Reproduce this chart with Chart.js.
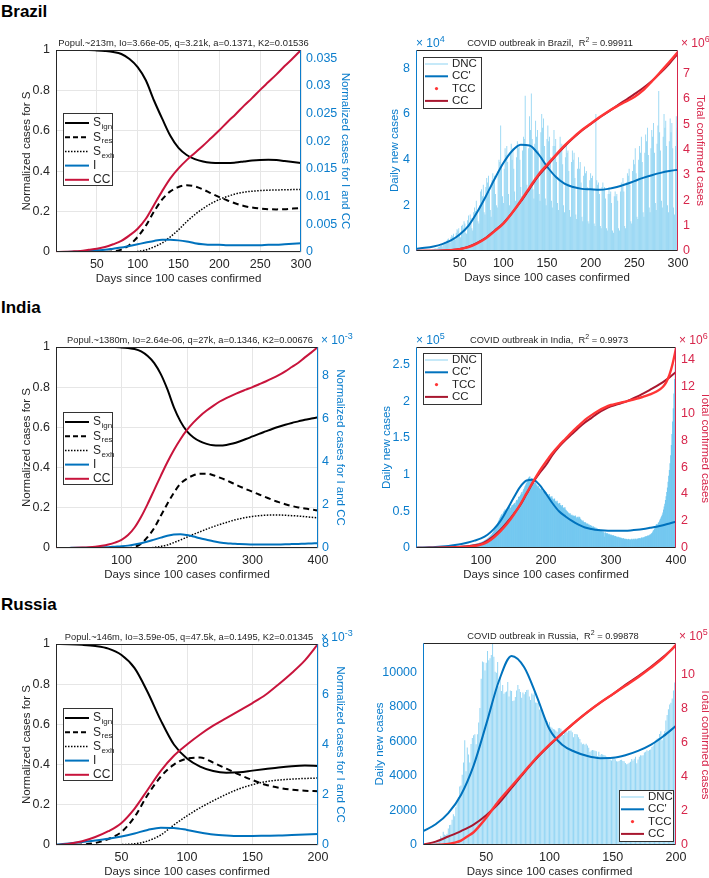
<!DOCTYPE html>
<html>
<head>
<meta charset="utf-8">
<title>COVID outbreak fits</title>
<script src="https://cdn.jsdelivr.net/npm/chart.js@4.4.0/dist/chart.umd.min.js"></script>
<style>
  body { margin: 0; width: 709px; height: 878px; position: relative; overflow: hidden; background: #fff;
         font-family: "Liberation Sans", Arial, Helvetica, sans-serif; }
  canvas { position: absolute; }
  .country { position: absolute; left: 1px; font-size: 17px; line-height: 17px; font-weight: bold; color: #000; }
</style>
</head>
<body>
<div class="country" style="top:3px">Brazil</div>
<div class="country" style="top:299px">India</div>
<div class="country" style="top:596px">Russia</div>
<canvas id="brLeft"></canvas>
<canvas id="brRight"></canvas>
<canvas id="inLeft"></canvas>
<canvas id="inRight"></canvas>
<canvas id="ruLeft"></canvas>
<canvas id="ruRight"></canvas>
<script>
// ---- tick positions ----
const sTicks = [0,0.2,0.4,0.6,0.8,1];
const brModelTicks = [0,0.005,0.01,0.015,0.02,0.025,0.03,0.035];
const milliTicks = [0,2,4,6,8];
const brDncTicks = [0,2,4,6,8];
const brTotTicks = [0,1,2,3,4,5,6,7];
const inDncTicks = [0,0.5,1,1.5,2,2.5];
const inTotTicks = [0,2,4,6,8,10,12,14];
const ruDncTicks = [0,2000,4000,6000,8000,10000];
const ruTotTicks = [0,2,4,6,8,10];

// ---- Brazil, model panel (S on left axis, I and CC on right axis) ----
const brDays = [0,10,20,30,40,50,60,70,80,90,100,110,120,130,140,150,160,170,180,190,200,210,220,230,240,250,260,270,280,290,300];
const brSign = [1,1,1,1,1,0.998,0.995,0.99,0.98,0.955,0.915,0.85,0.75,0.66,0.575,0.515,0.48,0.46,0.448,0.442,0.44,0.44,0.443,0.448,0.453,0.456,0.457,0.455,0.45,0.445,0.44];
const brSres = [0,0,0,0,0,0,0,0.003,0.012,0.035,0.075,0.13,0.2,0.26,0.3,0.322,0.33,0.325,0.31,0.29,0.272,0.255,0.24,0.228,0.22,0.215,0.212,0.211,0.212,0.215,0.218];
const brSexh = [0,0,0,0,0,0,0,0,0,0,0.003,0.01,0.025,0.045,0.075,0.11,0.15,0.185,0.215,0.24,0.26,0.275,0.288,0.296,0.301,0.304,0.306,0.307,0.308,0.309,0.31];
const brI = [0,0.00002,0.00005,0.0001,0.0002,0.0003,0.0004,0.0006,0.0008,0.0011,0.0014,0.0017,0.002,0.0022,0.0022,0.0021,0.0019,0.0016,0.0014,0.0013,0.0013,0.0012,0.0012,0.0012,0.0012,0.0012,0.0013,0.0013,0.0014,0.0015,0.0016];
const brCCn = [0,0.00003,0.0001,0.0002,0.0004,0.0006,0.0009,0.0014,0.002,0.003,0.0042,0.006,0.0085,0.011,0.0133,0.0151,0.0166,0.0179,0.0192,0.0206,0.022,0.0235,0.0249,0.0264,0.0278,0.0293,0.0307,0.0321,0.0336,0.035,0.0365];

// ---- Brazil, data panel: DNC in 1e4, CC' in 1e4, TCC and CC in 1e6 ----
const brDNC = [
  0.002,0.003,0.005,0.004,0.006,0.008,0.01,
  0.012,0.015,0.02,0.018,0.025,0.03,0.035,
  0.04,0.05,0.045,0.06,0.07,0.08,0.1,
  0.11,0.12,0.09,0.14,0.18,0.2,0.22,
  0.25,0.2,0.3,0.35,0.4,0.33,0.45,
  0.5,0.55,0.4,0.35,0.6,0.7,0.65,
  0.75,0.55,0.5,0.8,0.95,0.9,1.0,
  0.7,0.6,1.1,1.15,1.0,1.3,1.2,
  0.8,0.75,1.35,1.55,1.2,1.6,1.45,
  1.0,0.9,1.7,1.9,1.75,2.2,1.8,
  1.3,1.2,2.0,2.6,2.7,2.4,2.9,
  1.7,1.6,2.8,3.2,3.0,3.3,2.6,
  1.8,1.5,3.1,3.4,3.0,3.3,2.5,
  2.0,1.9,3.5,4.0,3.9,5.5,3.8,
  2.4,2.1,3.6,4.5,4.2,4.6,3.9,
  2.5,2.0,4.3,4.7,4.0,4.5,3.6,
  2.6,2.2,4.1,4.8,4.5,4.7,4.0,
  2.8,2.4,4.4,5.0,4.9,6.8,4.6,
  2.9,2.5,4.5,5.9,5.3,6.9,4.9,
  2.7,2.3,4.7,5.7,5.0,5.3,4.4,
  2.5,2.2,5.2,6.0,5.4,5.8,4.6,
  2.3,2.0,4.9,5.5,4.8,5.0,4.1,
  2.2,1.9,4.6,5.3,4.6,4.9,3.9,
  2.1,1.8,4.4,5.0,4.5,4.7,3.8,
  2.0,1.7,4.1,4.7,4.3,4.4,3.5,
  1.8,1.5,3.9,4.4,4.0,4.3,3.2,
  1.6,1.4,3.6,4.1,3.6,3.9,3.0,
  1.5,1.3,3.3,3.7,3.4,3.5,2.8,
  1.3,1.2,3.1,3.4,3.2,3.3,2.7,
  1.2,1.1,6.0,3.1,2.9,3.0,2.5,
  1.1,1.0,2.8,3.0,2.7,2.8,2.3,
  1.0,0.9,2.5,2.8,2.5,2.6,2.1,
  0.9,0.8,2.4,2.6,2.4,2.5,2.2,
  1.0,0.9,2.6,3.0,2.8,3.2,2.6,
  1.1,1.0,3.0,3.4,3.3,3.6,2.9,
  1.3,1.2,3.5,4.0,3.8,4.5,3.4,
  1.5,1.4,4.0,4.6,4.3,5.0,3.9,
  1.7,1.5,4.3,5.1,4.8,5.4,4.2,
  1.9,1.7,4.5,5.3,5.0,5.6,4.3,
  2.1,1.8,4.7,5.5,7.0,5.2,4.4,
  2.2,1.9,5.0,6.0,5.4,5.7,4.6,
  2.0,1.7,4.8,5.8,5.2,5.6,4.5,
  1.9,1.6,4.6,5.9,5.4,6.3
];
const brCCp = [0.1,0.14,0.2,0.3,0.46,0.72,1.1,1.7,2.4,3.15,3.85,4.38,4.65,4.62,4.25,3.7,3.25,2.95,2.8,2.72,2.7,2.68,2.72,2.8,2.92,3.06,3.2,3.32,3.42,3.5,3.56];
const brCC = [0,0.005,0.01,0.02,0.04,0.08,0.17,0.32,0.52,0.8,1.1,1.5,1.95,2.45,2.95,3.35,3.75,4.12,4.45,4.75,5.0,5.25,5.48,5.72,5.95,6.18,6.42,6.7,7.02,7.38,7.78];
const brTCCDays = brDays;
const brTCC = [0,0.001,0.005,0.01,0.03,0.07,0.15,0.3,0.5,0.78,1.08,1.5,1.98,2.5,3.0,3.4,3.78,4.15,4.47,4.77,5.02,5.27,5.5,5.7,5.88,6.07,6.33,6.68,7.06,7.45,7.85];

// ---- India, model panel (I and CC in 1e-3) ----
const inDays = [0,10,20,30,40,50,60,70,80,90,100,110,120,130,140,150,160,170,180,190,200,210,220,230,240,250,260,270,280,290,300,310,320,330,340,350,360,370,380,390,400];
const inSign = [1,1,1,1,1,1,1,1,1,1,0.998,0.995,0.99,0.978,0.955,0.92,0.865,0.79,0.7,0.63,0.58,0.55,0.53,0.518,0.511,0.51,0.513,0.52,0.53,0.542,0.555,0.568,0.58,0.592,0.603,0.613,0.622,0.63,0.638,0.644,0.65];
const inSres = [0,0,0,0,0,0,0,0,0,0,0,0,0.005,0.022,0.055,0.1,0.16,0.22,0.275,0.32,0.345,0.362,0.37,0.37,0.362,0.35,0.337,0.322,0.307,0.293,0.28,0.266,0.253,0.24,0.228,0.218,0.209,0.202,0.196,0.191,0.187];
const inSexh = [0,0,0,0,0,0,0,0,0,0,0,0,0,0,0,0.003,0.008,0.015,0.027,0.04,0.054,0.068,0.081,0.094,0.106,0.117,0.127,0.137,0.145,0.152,0.157,0.161,0.163,0.164,0.164,0.163,0.161,0.159,0.156,0.153,0.15];
const inI = [0,0.002,0.005,0.008,0.01,0.015,0.02,0.03,0.04,0.06,0.08,0.11,0.16,0.22,0.3,0.39,0.48,0.57,0.63,0.64,0.6,0.53,0.45,0.38,0.31,0.26,0.22,0.2,0.18,0.17,0.165,0.16,0.16,0.16,0.165,0.17,0.18,0.19,0.2,0.21,0.22];
const inCCn = [0,0.002,0.005,0.01,0.02,0.035,0.06,0.1,0.16,0.25,0.38,0.6,0.95,1.45,2.05,2.7,3.35,3.98,4.55,5.05,5.48,5.83,6.13,6.38,6.6,6.8,6.96,7.1,7.23,7.35,7.47,7.6,7.73,7.87,8.02,8.2,8.4,8.6,8.85,9.08,9.33];

// ---- India, data panel: DNC and CC' in 1e5, TCC and CC in 1e6 ----
const inDNC = [
  .001,.001,.001,.001,.002,.002,.002,.002,.002,.003,
  .003,.003,.003,.003,.004,.004,.004,.004,.005,.005,
  .005,.005,.006,.006,.006,.006,.007,.007,.007,.007,
  .007,.008,.008,.008,.008,.009,.009,.009,.009,.010,
  .010,.010,.010,.011,.011,.011,.012,.012,.012,.013,
  .013,.014,.014,.015,.015,.016,.016,.017,.017,.018,
  .018,.019,.020,.020,.021,.022,.022,.023,.024,.025,
  .025,.026,.027,.028,.029,.030,.031,.032,.033,.034,
  .035,.036,.037,.039,.040,.041,.043,.044,.046,.048,
  .050,.052,.054,.056,.058,.061,.064,.067,.070,.073,
  .077,.081,.085,.090,.095,.100,.106,.112,.118,.125,
  .132,.140,.148,.155,.165,.175,.185,.200,.215,.230,
  .245,.260,.280,.300,.320,.340,.360,.380,.400,.420,
  .440,.455,.430,.470,.490,.500,.520,.480,.510,.530,
  .540,.520,.550,.560,.540,.500,.560,.580,.570,.590,
  .600,.610,.580,.630,.650,.640,.660,.690,.700,.680,
  .720,.740,.760,.730,.780,.800,.820,.840,.860,.880,
  .900,.920,.950,.960,.970,.940,.930,.950,.920,.910,
  .900,.880,.870,.890,.860,.850,.830,.840,.820,.810,
  .800,.790,.810,.780,.770,.760,.780,.750,.740,.760,
  .740,.730,.720,.710,.730,.700,.690,.680,.700,.670,
  .660,.650,.670,.640,.630,.620,.640,.610,.600,.590,
  .610,.580,.570,.560,.580,.550,.540,.530,.550,.520,
  .510,.500,.490,.480,.470,.460,.470,.450,.440,.450,
  .430,.440,.420,.430,.440,.420,.400,.410,.420,.400,
  .420,.410,.390,.380,.370,.360,.370,.350,.340,.350,
  .340,.330,.320,.330,.310,.320,.300,.310,.290,.300,
  .290,.280,.290,.270,.280,.260,.270,.250,.260,.250,
  .240,.250,.230,.240,.220,.230,.210,.220,.200,.150,
  .210,.200,.190,.200,.190,.180,.190,.180,.170,.180,
  .170,.170,.160,.170,.160,.150,.160,.150,.150,.140,
  .150,.140,.140,.130,.140,.130,.130,.120,.130,.120,
  .120,.120,.110,.120,.110,.110,.120,.110,.110,.110,
  .110,.120,.110,.110,.120,.110,.120,.120,.110,.120,
  .120,.130,.120,.130,.130,.120,.140,.130,.140,.140,
  .140,.150,.150,.160,.150,.160,.170,.160,.170,.180,
  .180,.190,.200,.210,.230,.240,.260,.280,.300,.320,
  .300,.320,.340,.350,.370,.390,.410,.430,.450,.480,
  .520,.560,.600,.650,.700,.760,.820,.900,.980,1.06,
  1.15,1.26,1.40,1.55,1.72,1.90,2.10,2.30,2.50,2.70
];
const inCCp = [0.005,0.007,0.01,0.014,0.02,0.028,0.04,0.055,0.075,0.1,0.13,0.18,0.26,0.37,0.52,0.68,0.83,0.92,0.93,0.86,0.74,0.61,0.5,0.43,0.37,0.32,0.28,0.26,0.245,0.238,0.235,0.235,0.236,0.24,0.248,0.26,0.275,0.29,0.31,0.335,0.36];
const inCC = [0,0.005,0.01,0.02,0.03,0.045,0.065,0.09,0.13,0.2,0.3,0.55,0.9,1.35,1.9,2.5,3.15,4.0,4.85,5.55,6.15,6.9,7.5,8.0,8.45,8.9,9.3,9.65,10.0,10.28,10.5,10.65,10.8,11.0,11.22,11.47,11.73,12.0,12.3,12.65,13.05];
const inTCCDays = [0,10,20,30,40,50,60,70,80,90,100,110,120,130,140,150,160,170,180,190,200,210,220,230,240,250,260,270,280,290,300,310,320,330,340,350,360,370,380,385,390,395,400];
const inTCC = [0,0.002,0.005,0.01,0.02,0.03,0.05,0.07,0.1,0.15,0.25,0.45,0.8,1.25,1.8,2.45,3.2,4.05,4.9,5.7,6.4,7.05,7.6,8.1,8.6,9.05,9.5,9.85,10.15,10.4,10.6,10.72,10.83,10.95,11.07,11.22,11.38,11.6,11.95,12.3,12.85,13.7,14.8];

// ---- Russia, model panel (I and CC in 1e-3) ----
const ruDays = [0,10,20,30,40,50,60,70,80,90,100,110,120,130,140,150,160,170,180,190,200];
const ruSign = [1,0.999,0.996,0.99,0.977,0.945,0.88,0.76,0.62,0.5,0.43,0.39,0.368,0.36,0.362,0.37,0.378,0.386,0.392,0.395,0.393];
const ruSres = [0,0,0.002,0.01,0.03,0.065,0.14,0.25,0.34,0.4,0.43,0.435,0.41,0.38,0.35,0.323,0.3,0.285,0.275,0.27,0.268];
const ruSexh = [0,0,0,0,0,0.002,0.006,0.02,0.05,0.1,0.145,0.185,0.22,0.252,0.28,0.3,0.315,0.323,0.328,0.331,0.333];
const ruI = [0.02,0.06,0.12,0.18,0.25,0.34,0.46,0.6,0.69,0.68,0.6,0.5,0.42,0.38,0.36,0.36,0.37,0.38,0.4,0.42,0.44];
const ruCCn = [0,0.05,0.15,0.32,0.55,0.88,1.45,2.2,2.95,3.55,4.0,4.4,4.75,5.05,5.35,5.65,5.98,6.4,6.85,7.35,8.0];

// ---- Russia, data panel: DNC and CC' in cases, TCC and CC in 1e5 ----
const ruDNC = [
  33,52,54,53,57,71,57,163,182,196,
  228,270,302,501,440,771,601,582,658,954,
  1154,1175,1459,1786,1667,2186,2558,2774,3388,3448,
  4070,4785,6060,4268,5642,5236,4774,5849,6198,6361,
  6411,5841,6411,7099,7933,9623,10633,10581,10102,10559,
  11231,10699,10817,11012,11656,10899,10028,9974,10598,9200,
  9709,8926,9263,8764,8849,8894,9434,8599,8946,8915,
  8338,8371,8572,8952,9268,9035,8863,8536,8831,8726,
  8855,8984,8985,8595,8404,8779,8706,8835,8248,8246,
  8240,7843,7972,7790,7600,7425,7113,7176,6800,7113,
  6852,6791,6719,6693,6632,6556,6760,6781,6736,6611,
  6368,6562,6635,6509,6611,6615,6632,6537,6248,6422,
  6428,6406,6234,6139,5940,5842,5862,5811,5871,5765,
  5635,5395,5475,5509,5482,5462,5427,5159,5394,5204,
  5267,5241,5212,5189,5118,5102,5102,4945,4892,5065,
  5061,4969,4852,4838,4870,4921,4941,4872,4852,4744,
  4676,4711,4758,4829,4980,4897,4993,5110,4729,4952,
  5110,5195,5185,5205,5363,5405,5488,5449,5509,5529,
  5670,5762,5905,6065,6148,6196,6431,6595,6065,6431,
  6595,7212,7523,7867,8135,8232,8481,8945,9412,9859
];
const ruCCp = [800,1200,1850,2900,4600,7000,9500,10950,10300,8600,6700,5800,5400,5150,5030,5050,5200,5450,5800,6300,6900];
const ruCC = [0.03,0.2,0.5,0.82,1.2,1.75,2.45,3.35,4.25,5.1,5.85,6.55,7.2,7.8,8.35,8.85,9.4,9.9,10.45,11.05,11.7];
const ruTCCDays = [0,10,20,25,30,35,40,45,50,60,70,80,90,100,110,120,130,140,150,160,170,180,190,200];
const ruTCC = [0.001,0.01,0.06,0.14,0.26,0.5,0.75,1.15,1.6,2.6,3.45,4.3,5.15,5.9,6.55,7.2,7.8,8.35,8.85,9.35,9.85,10.4,11.0,11.75];

const FONT = '"Liberation Sans", Arial, Helvetica, sans-serif';
const INK = '#262626';
const AXBLUE = '#0b7dcc';
const AXRED = '#d7264b';
const LBLUE = '#0072bd';
const CCRED = '#c8143c';
const DARKRED = '#a8172f';
const TCCRED = '#ff3535';

Chart.defaults.font.family = FONT;
Chart.defaults.animation = false;

function lineDs(days, vals, color, width, dash, axis) {
  return {
    type: 'line',
    data: days.map((d, i) => ({ x: d, y: vals[i] })),
    borderColor: color, borderWidth: width, borderDash: dash,
    yAxisID: axis, pointRadius: 0, fill: false,
    cubicInterpolationMode: 'monotone'
  };
}

function barDs(vals, color, pct) {
  return {
    type: 'bar',
    data: vals.map((v, i) => ({ x: i + 1, y: v })),
    backgroundColor: color, yAxisID: 'y',
    barPercentage: pct, categoryPercentage: 1, order: 10
  };
}

// S lines on the left axis, I and CC on the right one
function modelSets(days, sign, sres, sexh, inf, cc) {
  return [
    lineDs(days, cc, CCRED, 2, [], 'y1'),
    lineDs(days, inf, LBLUE, 2, [], 'y1'),
    lineDs(days, sign, '#000', 2, [], 'y'),
    lineDs(days, sres, '#000', 2, [6, 4], 'y'),
    lineDs(days, sexh, '#000', 1.5, [1.5, 1.5], 'y')
  ];
}

function dataSets(days, ccp, cc, tccDays, tcc, dnc, barColor, barPct) {
  return [
    lineDs(tccDays, tcc, TCCRED, 2.4, [], 'y1'),
    lineDs(days, cc, DARKRED, 2, [], 'y1'),
    lineDs(days, ccp, LBLUE, 2, [], 'y'),
    barDs(dnc, barColor, barPct)
  ];
}

const modelLegend = [
  { label: 'S', sub: 'ign', color: '#000', width: 2, dash: [] },
  { label: 'S', sub: 'res', color: '#000', width: 2, dash: [5, 3] },
  { label: 'S', sub: 'exh', color: '#000', width: 1.5, dash: [1.5, 1.5] },
  { label: 'I', color: LBLUE, width: 2, dash: [] },
  { label: 'CC', color: CCRED, width: 2, dash: [] }
];
const dataLegend = [
  { label: 'DNC', color: '#8dd3f2', width: 1, dash: [] },
  { label: "CC'", color: LBLUE, width: 2, dash: [] },
  { label: 'TCC', color: TCCRED, dot: true },
  { label: 'CC', color: DARKRED, width: 2, dash: [] }
];

// text made of plain / superscript pieces
function rich(ctx, segs, x, y, align, size, color) {
  const fontOf = s => (s[1] ? Math.round(size * 0.72) : size) + 'px ' + FONT;
  let w = 0;
  segs.forEach(s => { ctx.font = fontOf(s); w += ctx.measureText(s[0]).width; });
  let cx = align === 'center' ? x - w / 2 : x;
  ctx.fillStyle = color;
  ctx.textAlign = 'left';
  ctx.textBaseline = 'alphabetic';
  segs.forEach(s => {
    ctx.font = fontOf(s);
    const dy = s[1] === 'sup' ? -size * 0.42 : s[1] === 'sub' ? size * 0.3 : 0;
    ctx.fillText(s[0], cx, y + dy);
    cx += ctx.measureText(s[0]).width;
  });
}

function drawLegend(ctx, a, g) {
  const x = Math.round(a.left + g.dx), y = Math.round(a.top + g.dy);
  ctx.fillStyle = '#fff';
  ctx.fillRect(x, y, g.w, g.h);
  ctx.strokeStyle = '#333';
  ctx.lineWidth = 1;
  ctx.setLineDash([]);
  ctx.strokeRect(x + 0.5, y + 0.5, g.w, g.h);
  g.items.forEach((it, i) => {
    const cy = y + g.first + i * g.rowH;
    if (it.dot) {
      ctx.fillStyle = it.color;
      ctx.beginPath();
      ctx.arc(x + g.lineX + g.lineW / 2, cy, 1.6, 0, Math.PI * 2);
      ctx.fill();
    } else {
      ctx.strokeStyle = it.color;
      ctx.lineWidth = it.width;
      ctx.setLineDash(it.dash);
      ctx.beginPath();
      ctx.moveTo(x + g.lineX, cy);
      ctx.lineTo(x + g.lineX + g.lineW, cy);
      ctx.stroke();
      ctx.setLineDash([]);
    }
    ctx.fillStyle = INK;
    ctx.textAlign = 'left';
    ctx.textBaseline = 'middle';
    ctx.font = g.size + 'px ' + FONT;
    ctx.fillText(it.label, x + g.textX, cy);
    if (it.sub) {
      const w = ctx.measureText(it.label).width;
      ctx.font = Math.round(g.size * 0.68) + 'px ' + FONT;
      ctx.fillText(it.sub, x + g.textX + w + 0.5, cy + 4);
    }
  });
}

function makeDecor(d) {
  return {
    id: 'decor',
    afterDatasetsDraw(chart) {
      const ctx = chart.ctx, a = chart.chartArea;
      const L = Math.round(a.left) + 0.5, R = Math.round(a.right) - 0.5;
      const T = Math.round(a.top) + 0.5, B = Math.round(a.bottom) - 0.5;
      ctx.save();
      ctx.lineWidth = 1;
      [[L, T, R, T, INK], [L, B, R, B, INK], [L, T, L, B, d.leftColor], [R, T, R, B, d.rightColor]].forEach(s => {
        ctx.strokeStyle = s[4];
        ctx.beginPath(); ctx.moveTo(s[0], s[1]); ctx.lineTo(s[2], s[3]); ctx.stroke();
      });
      rich(ctx, d.title, (a.left + a.right) / 2 + d.shift, a.top - 4, 'center', d.titleSize, INK);
      if (d.expL) rich(ctx, [['\u00d7 10'], [d.expL, 'sup']], a.left, a.top - 3, 'left', 12, d.leftColor);
      if (d.expR) rich(ctx, [['\u00d7 10'], [d.expR, 'sup']], a.right + 3, a.top - 3, 'left', 12, d.rightColor);
      drawLegend(ctx, a, d.legend);
      ctx.restore();
    }
  };
}

function panel(id, box, plot, spec) {
  const cv = document.getElementById(id);
  cv.width = box.r - box.l;
  cv.height = box.b - box.t;
  cv.style.left = box.l + 'px';
  cv.style.top = box.t + 'px';

  const yAxis = (side, ax) => ({
    type: 'linear', position: side, min: 0, max: ax.max,
    afterFit: s => { s.width = side === 'left' ? plot.l - box.l : box.r - plot.r; },
    afterBuildTicks: s => { s.ticks = ax.ticks.map(v => ({ value: v })); },
    ticks: {
      color: ax.color, padding: ax.pad, font: { size: 12.5 },
      callback: v => String(+v.toFixed(4))
    },
    grid: { display: side === 'left' && spec.grid, color: '#e6e6e6', drawTicks: false },
    border: { display: false },
    title: { display: true, text: ax.title, color: ax.color, font: { size: 11.5 }, padding: { top: ax.tpad || 0, bottom: 0 } }
  });

  return new Chart(cv, {
    type: 'line',
    data: { datasets: spec.datasets },
    options: {
      responsive: false,
      animation: false,
      devicePixelRatio: 1,
      layout: { padding: { top: plot.t - box.t, left: 0, right: 0, bottom: 0 } },
      plugins: { legend: { display: false }, tooltip: { enabled: false } },
      scales: {
        x: {
          type: 'linear', min: 0, max: spec.xMax, offset: false,
          afterFit: s => { s.height = box.b - plot.b; },
          ticks: {
            stepSize: spec.xStep, includeBounds: false, color: INK, padding: 5,
            font: { size: 12.5 }, maxRotation: 0, autoSkip: false,
            callback: v => (v === 0 ? '' : String(v))
          },
          grid: { display: spec.grid, color: '#e6e6e6', drawTicks: false },
          border: { display: false },
          title: { display: true, text: 'Days since 100 cases confirmed', color: INK, font: { size: 11.5 }, padding: { top: 0, bottom: 3 } }
        },
        y: yAxis('left', spec.yL),
        y1: yAxis('right', spec.yR)
      }
    },
    plugins: [makeDecor(spec.decor)]
  });
}

const modelLeg = dy => ({ dx: 7, dy: dy, w: 49, h: 72, first: 10, rowH: 14.2, lineX: 2, lineW: 24, textX: 30, size: 12, items: modelLegend });
const dataLeg = (dx, dy, w) => ({ dx: dx, dy: dy, w: w, h: 51, first: 7, rowH: 12.3, lineX: 2, lineW: 23, textX: 29, size: 11.5, items: dataLegend });

// Brazil
panel('brLeft', { l: 20, t: 35, r: 352, b: 289 }, { l: 56, t: 50, r: 301, b: 252 }, {
  grid: true, xMax: 300, xStep: 50,
  yL: { max: 1, ticks: sTicks, color: INK, pad: 6, title: 'Normalized cases for S' },
  yR: { max: 0.0365, ticks: brModelTicks, color: AXBLUE, pad: 5, title: 'Normalized cases for I and CC' },
  datasets: modelSets(brDays, brSign, brSres, brSexh, brI, brCCn),
  decor: { title: [['Popul.~213m, Io=3.66e-05, q=3.21k, a=0.1371, K2=0.01536']], titleSize: 9.4, shift: 5,
           leftColor: INK, rightColor: AXBLUE, legend: modelLeg(63) }
});
panel('brRight', { l: 388, t: 35, r: 712, b: 288 }, { l: 416, t: 50, r: 678, b: 251 }, {
  grid: false, xMax: 300, xStep: 50,
  yL: { max: 8.8, ticks: brDncTicks, color: AXBLUE, pad: 6, title: 'Daily new cases' },
  yR: { max: 7.92, ticks: brTotTicks, color: AXRED, pad: 5, tpad: 5, title: 'Total confirmed cases' },
  datasets: dataSets(brDays, brCCp, brCC, brTCCDays, brTCC, brDNC, '#86d0f1', 0.9),
  decor: { title: [['COVID outbreak in Brazil,  R'], ['2', 'sup'], [' = 0.99911']], titleSize: 9.3, shift: 3,
           leftColor: AXBLUE, rightColor: AXRED, expL: '4', expR: '6', legend: dataLeg(7, 7, 58) }
});

// India
panel('inLeft', { l: 20, t: 330, r: 356, b: 585 }, { l: 56, t: 347, r: 318, b: 548 }, {
  grid: true, xMax: 400, xStep: 100,
  yL: { max: 1, ticks: sTicks, color: INK, pad: 6, title: 'Normalized cases for S' },
  yR: { max: 9.33, ticks: milliTicks, color: AXBLUE, pad: 4, tpad: 9, title: 'Normalized cases for I and CC' },
  datasets: modelSets(inDays, inSign, inSres, inSexh, inI, inCCn),
  decor: { title: [['Popul.~1380m, Io=2.64e-06, q=27k, a=0.1346, K2=0.00676']], titleSize: 9.3, shift: 3,
           leftColor: INK, rightColor: AXBLUE, expR: '-3', legend: modelLeg(65) }
});
panel('inRight', { l: 380, t: 330, r: 712, b: 585 }, { l: 416, t: 347, r: 676, b: 548 }, {
  grid: false, xMax: 400, xStep: 100,
  yL: { max: 2.74, ticks: inDncTicks, color: AXBLUE, pad: 6, title: 'Daily new cases' },
  yR: { max: 14.9, ticks: inTotTicks, color: AXRED, pad: 5, title: 'Total confirmed cases' },
  datasets: dataSets(inDays, inCCp, inCC, inTCCDays, inTCC, inDNC, '#74c8f0', 1),
  decor: { title: [['COVID outbreak in India,  R'], ['2', 'sup'], [' = 0.9973']], titleSize: 9.3, shift: 3,
           leftColor: AXBLUE, rightColor: AXRED, expL: '5', expR: '6', legend: dataLeg(7, 6, 58) }
});

// Russia
panel('ruLeft', { l: 20, t: 625, r: 356, b: 882 }, { l: 56, t: 644, r: 318, b: 845 }, {
  grid: true, xMax: 200, xStep: 50,
  yL: { max: 1, ticks: sTicks, color: INK, pad: 6, title: 'Normalized cases for S' },
  yR: { max: 8, ticks: milliTicks, color: AXBLUE, pad: 4, tpad: 9, title: 'Normalized cases for I and CC' },
  datasets: modelSets(ruDays, ruSign, ruSres, ruSexh, ruI, ruCCn),
  decor: { title: [['Popul.~146m, Io=3.59e-05, q=47.5k, a=0.1495, K2=0.01345']], titleSize: 9.3, shift: 2,
           leftColor: INK, rightColor: AXBLUE, expR: '-3', legend: modelLeg(64) }
});
panel('ruRight', { l: 373, t: 625, r: 712, b: 882 }, { l: 423, t: 643, r: 676, b: 845 }, {
  grid: false, xMax: 200, xStep: 50,
  yL: { max: 11700, ticks: ruDncTicks, color: AXBLUE, pad: 6, title: 'Daily new cases' },
  yR: { max: 11.86, ticks: ruTotTicks, color: AXRED, pad: 5, title: 'Total confirmed cases' },
  datasets: dataSets(ruDays, ruCCp, ruCC, ruTCCDays, ruTCC, ruDNC, '#95d6f4', 0.8),
  decor: { title: [['COVID outbreak in Russia,  R'], ['2', 'sup'], [' = 0.99878']], titleSize: 9.3, shift: 3.5,
           leftColor: AXBLUE, rightColor: AXRED, expR: '5', legend: dataLeg(196, 147, 54) }
});
</script>
</body>
</html>
